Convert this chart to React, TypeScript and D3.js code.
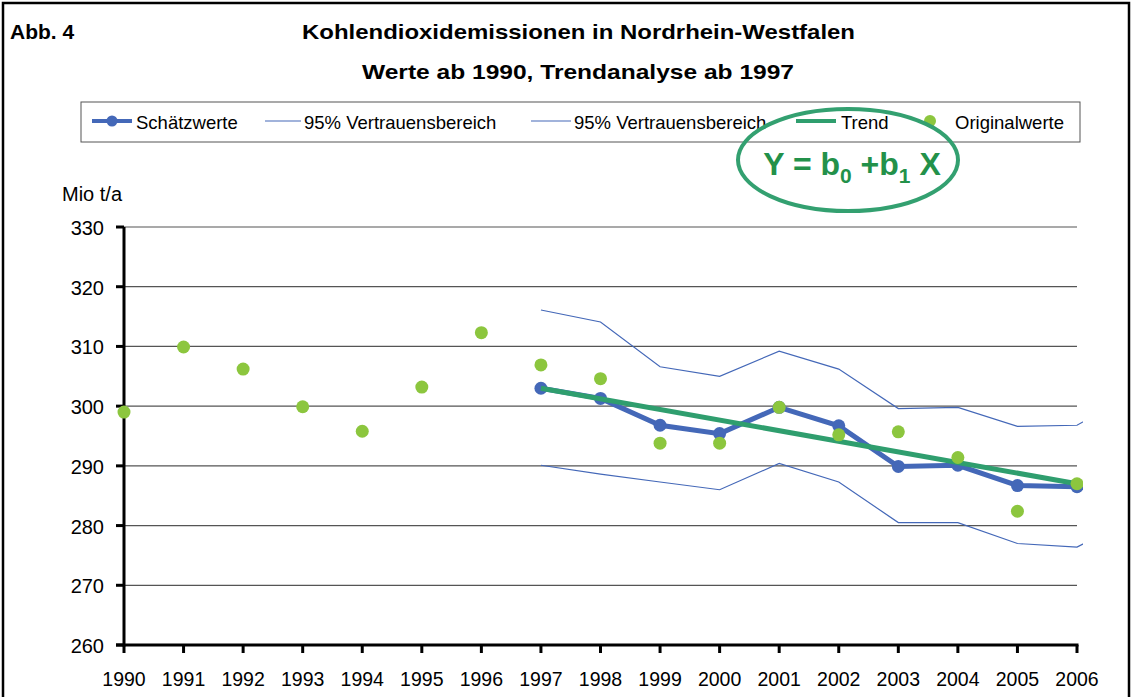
import React from "react";
import * as d3 from "d3";

const years = [1990,1991,1992,1993,1994,1995,1996,1997,1998,1999,2000,2001,2002,2003,2004,2005,2006];
const original = [299.0,309.9,306.2,299.9,295.8,303.2,312.3,306.9,304.6,293.8,293.8,299.8,295.2,295.7,291.4,282.4,287.0];
const estYears = [1997,1998,1999,2000,2001,2002,2003,2004,2005,2006];
const estimates = [303.0,301.3,296.8,295.4,299.8,296.7,289.9,290.1,286.7,286.5];
const ciYears = [1997,1998,1999,2000,2001,2002,2003,2004,2005,2006,2007];
const ciUpper = [316.1,314.1,306.6,305.0,309.2,306.2,299.6,299.8,296.6,296.8,302.5];
const ciLower = [290.1,288.6,287.3,286.0,290.4,287.3,280.5,280.5,277.0,276.4,281.5];
const trendYears = [1997,2006];
const trendValues = [303.0,287.0];
const yTicks = [260,270,280,290,300,310,320,330];

const W = 1133, H = 697;
const L = 124, R = 1077, T = 227, B = 645;
const font = "'Liberation Sans', Arial, sans-serif";
const BLUE = "#4468b8";
const GREEN = "#8cc63e";
const TREND = "#2f9e6e";

export default function App() {
  const x = d3.scaleLinear().domain([1990, 2006]).range([L, R]);
  const y = d3.scaleLinear().domain([260, 330]).range([B, T]);
  const line = d3.line<[number, number]>().x(d => x(d[0])).y(d => y(d[1]));
  const est = estYears.map((yr, i) => [yr, estimates[i]] as [number, number]);
  const up = ciYears.map((yr, i) => [yr, ciUpper[i]] as [number, number]);
  const lo = ciYears.map((yr, i) => [yr, ciLower[i]] as [number, number]);
  const tr = trendYears.map((yr, i) => [yr, trendValues[i]] as [number, number]);

  return (
    <svg width={W} height={H} style={{ position: "absolute", left: 0, top: 0, background: "#fff" }} fontFamily={font}>
      <defs>
        <clipPath id="plotclip"><rect x={L - 10} y={T - 20} width={R - L + 16} height={B - T + 40} /></clipPath>
      </defs>
      <rect x={3} y={3} width={1126} height={710} fill="#fff" stroke="#000" strokeWidth={2.5} />
      <text x={10} y={39} fontSize={21} fontWeight="bold">Abb. 4</text>
      <text x={302} y={39} fontSize={21} fontWeight="bold" textLength={553} lengthAdjust="spacingAndGlyphs">Kohlendioxidemissionen in Nordrhein-Westfalen</text>
      <text x={362} y={79} fontSize={21} fontWeight="bold" textLength={432} lengthAdjust="spacingAndGlyphs">Werte ab 1990, Trendanalyse ab 1997</text>

      {/* legend */}
      <rect x={81} y={102} width={999} height={40} fill="#fff" stroke="#555" strokeWidth={1} />
      <g fontSize={18.5}>
        <line x1={92} x2={132} y1={121} y2={121} stroke={BLUE} strokeWidth={4} />
        <circle cx={112} cy={121} r={5.5} fill={BLUE} />
        <text x={136} y={128.5}>Schätzwerte</text>
        <line x1={265} x2={301} y1={121} y2={121} stroke={BLUE} strokeWidth={1.2} />
        <text x={304} y={128.5}>95% Vertrauensbereich</text>
        <line x1={531} x2={571} y1={121} y2={121} stroke={BLUE} strokeWidth={1.2} />
        <text x={574} y={128.5}>95% Vertrauensbereich</text>
        <line x1={796} x2={836} y1={121} y2={121} stroke={TREND} strokeWidth={4} />
        <text x={841} y={128.5}>Trend</text>
        <circle cx={930} cy={121} r={6} fill={GREEN} />
        <text x={955} y={128.5}>Originalwerte</text>
      </g>

      {/* equation ellipse */}
      <ellipse cx={848} cy={160} rx={110} ry={51} fill="none" stroke="#33a070" strokeWidth={4} />
      <text x={852} y={175} fontSize={32} fontWeight="bold" fill="#23914a" textAnchor="middle">
        Y = b<tspan fontSize={21} dy={8}>0</tspan><tspan dy={-8}> +b</tspan><tspan fontSize={21} dy={8}>1</tspan><tspan dy={-8}> X</tspan>
      </text>

      <text x={62} y={201} fontSize={20}>Mio t/a</text>

      {/* grid */}
      {yTicks.map(t => (
        <g key={t}>
          <line x1={L} x2={R} y1={y(t)} y2={y(t)} stroke="#555" strokeWidth={1.2} />
          <line x1={L - 8} x2={L} y1={y(t)} y2={y(t)} stroke="#000" strokeWidth={3} />
          <text x={104} y={y(t) + 8} fontSize={20} textAnchor="end">{t}</text>
        </g>
      ))}
      {years.map(yr => (
        <g key={yr}>
          <line x1={x(yr)} x2={x(yr)} y1={B} y2={B + 8} stroke="#000" strokeWidth={3} />
          <text x={x(yr)} y={686} fontSize={19.5} textAnchor="middle">{yr}</text>
        </g>
      ))}
      <line x1={L} x2={L} y1={T} y2={B + 1.5} stroke="#000" strokeWidth={3} />
      <line x1={L - 8} x2={R + 1.5} y1={B} y2={B} stroke="#000" strokeWidth={3} />

      <g clipPath="url(#plotclip)">
        <path d={line(up) || ""} fill="none" stroke={BLUE} strokeWidth={1.2} />
        <path d={line(lo) || ""} fill="none" stroke={BLUE} strokeWidth={1.2} />
        <path d={line(est) || ""} fill="none" stroke={BLUE} strokeWidth={5} />
        {est.map((d, i) => <circle key={i} cx={x(d[0])} cy={y(d[1])} r={6.5} fill={BLUE} />)}
        <path d={line(tr) || ""} fill="none" stroke={TREND} strokeWidth={5} />
        {years.map((yr, i) => <circle key={yr} cx={x(yr)} cy={y(original[i])} r={6.5} fill={GREEN} />)}
      </g>
    </svg>
  );
}
